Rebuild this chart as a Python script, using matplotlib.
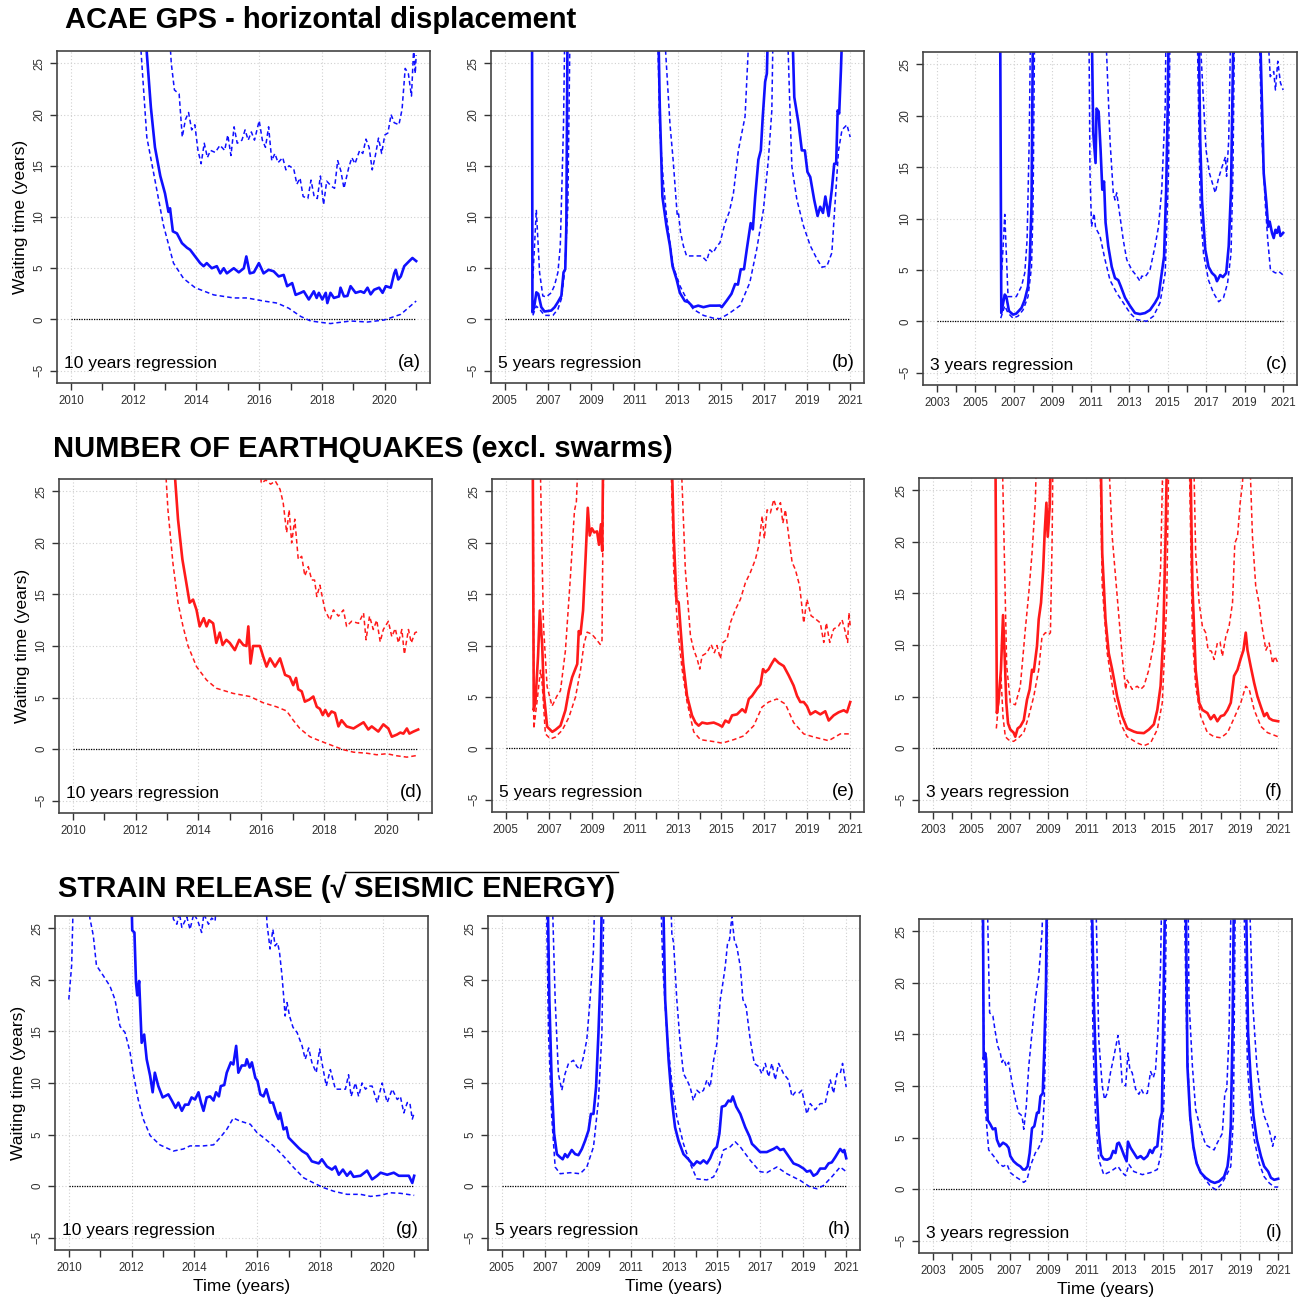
import numpy as np
import matplotlib
matplotlib.use('Agg')
import matplotlib.pyplot as plt
from matplotlib.lines import Line2D

plt.rcParams['font.family'] = ['Liberation Sans', 'DejaVu Sans']

# ---------------------------------------------------------------- data
# each curve = list of segments, each segment = list of (year, waiting time)
# values of 30 stand for "off the top of the plot"

# ---- (a) GPS, 10 years regression
a_solid = [[(2012.38, 30), (2012.42, 26.0), (2012.55, 20.7), (2012.68, 16.8), (2012.85, 14.0), (2013.0, 12.3),
            (2013.11, 10.5), (2013.16, 10.85), (2013.25, 8.6), (2013.38, 8.4), (2013.54, 7.45), (2013.7, 7.0),
            (2013.8, 6.8), (2013.96, 6.15), (2014.12, 5.5), (2014.23, 5.2), (2014.33, 5.5), (2014.49, 5.0),
            (2014.65, 5.2), (2014.76, 4.5), (2014.87, 5.0), (2014.97, 4.5), (2015.19, 5.0), (2015.35, 4.6),
            (2015.51, 5.0), (2015.59, 6.15), (2015.7, 4.5), (2015.83, 4.6), (2015.99, 5.5), (2016.14, 4.5),
            (2016.3, 4.85), (2016.46, 4.7), (2016.62, 4.2), (2016.78, 4.35), (2016.89, 3.25), (2017.05, 3.55),
            (2017.16, 2.4), (2017.32, 2.6), (2017.42, 2.75), (2017.58, 1.95), (2017.74, 2.75), (2017.83, 2.1),
            (2017.9, 2.6), (2018.01, 1.95), (2018.12, 2.6), (2018.17, 1.6), (2018.27, 2.6), (2018.38, 2.1),
            (2018.54, 2.25), (2018.59, 3.1), (2018.7, 2.25), (2018.81, 2.3), (2018.91, 3.25), (2019.07, 2.6),
            (2019.23, 2.75), (2019.34, 2.6), (2019.45, 3.1), (2019.55, 2.45), (2019.66, 2.9), (2019.82, 3.1),
            (2019.93, 2.6), (2020.03, 3.25), (2020.19, 3.1), (2020.3, 4.5), (2020.35, 4.85), (2020.43, 3.9),
            (2020.51, 4.2), (2020.62, 5.2), (2020.78, 5.7), (2020.88, 6.0), (2021.0, 5.7)]]
a_upper = [[(2013.1, 30), (2013.2, 25.0), (2013.3, 22.4), (2013.45, 22.0), (2013.55, 17.8), (2013.65, 19.5),
            (2013.75, 20.2), (2013.85, 18.5), (2013.95, 19.0), (2014.05, 16.5), (2014.15, 15.2), (2014.25, 17.2),
            (2014.35, 15.8), (2014.45, 16.5), (2014.6, 16.3), (2014.75, 17.0), (2014.9, 16.5), (2015.0, 18.0),
            (2015.1, 16.0), (2015.2, 18.8), (2015.3, 17.2), (2015.45, 17.5), (2015.55, 18.5), (2015.65, 17.5),
            (2015.75, 18.3), (2015.85, 17.5), (2016.0, 19.4), (2016.1, 17.5), (2016.2, 16.8), (2016.3, 18.8),
            (2016.4, 15.5), (2016.5, 16.2), (2016.6, 15.3), (2016.75, 15.8), (2016.85, 14.6), (2016.95, 15.0),
            (2017.1, 14.7), (2017.2, 13.2), (2017.3, 13.8), (2017.4, 12.0), (2017.55, 11.8), (2017.65, 13.6),
            (2017.75, 12.0), (2017.85, 11.8), (2017.95, 14.0), (2018.05, 11.2), (2018.15, 13.5), (2018.3, 13.0),
            (2018.4, 12.8), (2018.5, 15.5), (2018.6, 14.5), (2018.7, 12.8), (2018.85, 14.8), (2018.95, 15.8),
            (2019.05, 15.2), (2019.2, 16.5), (2019.3, 16.2), (2019.4, 17.6), (2019.5, 16.8), (2019.6, 14.6),
            (2019.7, 16.0), (2019.8, 17.7), (2019.9, 16.2), (2020.0, 18.0), (2020.1, 18.2), (2020.2, 20.0),
            (2020.3, 19.2), (2020.45, 19.0), (2020.55, 20.5), (2020.65, 24.5), (2020.75, 24.0), (2020.85, 21.8),
            (2020.92, 26.5), (2020.97, 24.0), (2021.0, 25.8)]]
a_lower = [[(2012.2, 30), (2012.24, 26.0), (2012.42, 17.8), (2012.68, 13.6), (2012.95, 9.2), (2013.27, 5.5),
            (2013.59, 4.0), (2013.96, 3.1), (2014.55, 2.4), (2015.19, 2.1), (2015.61, 2.1), (2016.14, 1.8),
            (2016.57, 1.6), (2016.94, 1.1), (2017.32, 0.3), (2017.64, -0.15), (2018.27, -0.4), (2018.91, -0.15),
            (2019.45, -0.25), (2019.98, -0.05), (2020.51, 0.5), (2021.0, 1.8)]]

# ---- (b) GPS, 5 years regression
b_solid = [[(2006.26, 30), (2006.28, 0.7), (2006.36, 1.2), (2006.46, 2.65), (2006.55, 2.5), (2006.69, 1.2),
            (2006.84, 0.78), (2007.15, 0.87), (2007.31, 1.2), (2007.46, 1.7), (2007.62, 2.3), (2007.72, 4.6),
            (2007.8, 4.9), (2007.85, 9.1), (2007.91, 30)],
           [(2012.1, 30), (2012.18, 20.7), (2012.3, 12.0), (2012.49, 9.1), (2012.65, 7.2), (2012.77, 5.2),
            (2012.96, 3.9), (2013.11, 2.6), (2013.34, 1.8), (2013.5, 1.7), (2013.73, 1.2), (2013.96, 1.35),
            (2014.2, 1.2), (2014.5, 1.35), (2014.81, 1.35), (2014.97, 1.36), (2015.05, 1.2), (2015.28, 1.84),
            (2015.5, 2.5), (2015.67, 3.46), (2015.8, 3.4), (2015.93, 4.9), (2016.08, 4.9), (2016.21, 6.85),
            (2016.39, 9.4), (2016.49, 8.8), (2016.6, 12.0), (2016.75, 15.6), (2016.86, 16.5), (2016.95, 19.8),
            (2017.06, 23.2), (2017.14, 24.0), (2017.21, 30)],
           [(2018.3, 30), (2018.41, 21.7), (2018.61, 19.1), (2018.76, 16.5), (2018.9, 16.5), (2019.02, 14.4),
            (2019.15, 13.9), (2019.33, 11.7), (2019.49, 10.1), (2019.61, 11.0), (2019.74, 10.4), (2019.85, 12.0),
            (2020.0, 10.1), (2020.15, 12.7), (2020.26, 15.2), (2020.35, 15.2), (2020.42, 20.4), (2020.49, 20.1),
            (2020.57, 24.3), (2020.66, 30)]]
b_upper = [[(2006.3, 4.0), (2006.46, 10.7), (2006.61, 4.6), (2006.76, 2.3), (2006.92, 2.2), (2007.15, 2.6),
            (2007.3, 3.3), (2007.46, 4.6), (2007.57, 7.2), (2007.66, 14.3), (2007.72, 19.1), (2007.79, 30)],
           [(2012.34, 30), (2012.65, 19.1), (2012.8, 15.5), (2012.99, 10.1), (2013.05, 10.3), (2013.14, 8.5),
            (2013.27, 7.2), (2013.42, 6.2), (2013.73, 6.2), (2014.12, 6.2), (2014.35, 5.7), (2014.5, 6.8),
            (2014.65, 6.5), (2014.81, 7.1), (2014.97, 7.5), (2015.2, 9.4), (2015.4, 10.5), (2015.59, 12.3),
            (2015.82, 16.5), (2016.13, 19.8), (2016.36, 30)]]
b_lower = [[(2006.3, 0.4), (2006.46, 1.3), (2006.61, 1.0), (2006.84, 0.4), (2007.23, 0.4), (2007.46, 1.0),
            (2007.62, 2.0), (2007.77, 4.6), (2007.92, 11.0), (2008.03, 30)],
           [(2012.06, 30), (2012.18, 18.4), (2012.34, 13.6), (2012.49, 10.1), (2012.65, 7.5), (2012.8, 5.2),
            (2013.11, 3.3), (2013.42, 2.0), (2013.73, 1.0), (2014.2, 0.4), (2014.66, 0.13), (2014.97, 0.07),
            (2015.4, 0.6), (2015.9, 1.36), (2016.35, 3.6), (2016.67, 6.85), (2016.98, 10.7), (2017.21, 15.6),
            (2017.37, 20.4), (2017.44, 30)],
           [(2018.07, 30), (2018.22, 19.8), (2018.3, 14.9), (2018.53, 11.7), (2018.84, 9.1), (2019.15, 7.2),
            (2019.46, 5.9), (2019.69, 5.1), (2019.92, 5.2), (2020.15, 6.5), (2020.31, 11.7), (2020.46, 16.5),
            (2020.62, 18.5), (2020.85, 19.0), (2021.0, 17.8)]]

# ---- (c) GPS, 3 years regression
c_solid = [[(2006.29, 30), (2006.35, 0.8), (2006.53, 2.6), (2006.61, 2.4), (2006.75, 1.0), (2006.96, 0.65),
            (2007.13, 0.75), (2007.4, 1.3), (2007.57, 2.1), (2007.74, 3.4), (2007.83, 6.0), (2007.92, 11.2),
            (2008.0, 30)],
           [(2011.04, 30), (2011.13, 18.3), (2011.25, 15.4), (2011.3, 20.7), (2011.41, 20.4), (2011.51, 16.7),
            (2011.6, 12.8), (2011.69, 13.6), (2011.77, 9.6), (2011.91, 7.3), (2012.09, 5.3), (2012.26, 4.2),
            (2012.43, 4.0), (2012.56, 3.4), (2012.78, 2.3), (2013.04, 1.5), (2013.3, 0.8), (2013.56, 0.7),
            (2013.82, 0.8), (2014.08, 1.1), (2014.34, 1.8), (2014.52, 2.4), (2014.69, 4.7), (2014.81, 6.3),
            (2014.92, 12.8), (2015.0, 20.9), (2015.06, 30)],
           [(2016.6, 30), (2016.69, 17.6), (2016.78, 11.8), (2016.95, 7.0), (2017.12, 5.3), (2017.3, 4.7),
            (2017.47, 4.4), (2017.56, 3.9), (2017.73, 4.5), (2017.87, 4.3), (2018.04, 4.7), (2018.17, 7.3),
            (2018.29, 12.8), (2018.43, 30)],
           [(2019.78, 30), (2019.99, 14.4), (2020.13, 11.5), (2020.22, 9.2), (2020.3, 9.7), (2020.42, 8.6),
            (2020.51, 8.1), (2020.6, 8.9), (2020.68, 8.6), (2020.77, 9.2), (2020.86, 8.3), (2021.0, 8.6)]]
c_upper = [[(2006.38, 5.0), (2006.53, 10.4), (2006.7, 2.4), (2006.96, 2.4), (2007.13, 2.4), (2007.4, 3.4),
            (2007.57, 4.7), (2007.69, 7.9), (2007.8, 17.6), (2007.88, 30)],
           [(2011.74, 30), (2012.0, 17.6), (2012.17, 12.5), (2012.26, 11.8), (2012.35, 12.5), (2012.52, 10.2),
            (2012.69, 7.9), (2012.87, 6.0), (2013.13, 5.0), (2013.39, 4.4), (2013.56, 3.9), (2013.65, 4.4),
            (2013.82, 4.3), (2014.08, 5.0), (2014.34, 7.3), (2014.52, 9.2), (2014.69, 12.8), (2014.87, 20.9),
            (2014.92, 30)],
           [(2016.62, 30), (2016.99, 16.7), (2017.17, 14.4), (2017.47, 12.5), (2017.64, 13.9), (2017.82, 15.0),
            (2018.0, 16.0), (2018.06, 14.1), (2018.17, 17.6), (2018.29, 30)],
           [(2020.15, 30), (2020.33, 23.8), (2020.51, 24.3), (2020.6, 22.5), (2020.72, 25.3), (2020.86, 23.2),
            (2021.0, 22.5)]]
c_lower = [[(2006.32, 0.3), (2006.53, 1.5), (2006.7, 0.8), (2006.96, 0.3), (2007.22, 0.5), (2007.48, 1.1),
            (2007.74, 2.4), (2007.92, 5.3), (2008.0, 11.2), (2008.09, 30)],
           [(2010.9, 30), (2010.96, 14.4), (2011.04, 9.2), (2011.17, 10.5), (2011.25, 9.1), (2011.48, 8.3),
            (2011.74, 6.0), (2012.0, 4.0), (2012.35, 2.75), (2012.69, 1.8), (2013.04, 0.8), (2013.39, 0.16),
            (2013.9, 0.0), (2014.26, 0.5), (2014.6, 1.8), (2014.87, 4.7), (2015.04, 14.4), (2015.13, 30)],
           [(2016.52, 30), (2016.69, 11.2), (2016.86, 6.6), (2017.12, 4.0), (2017.38, 2.75), (2017.65, 1.9),
            (2017.9, 2.3), (2018.11, 3.7), (2018.29, 6.6), (2018.39, 14.4), (2018.48, 30)],
           [(2019.73, 30), (2019.9, 17.6), (2020.08, 11.2), (2020.2, 7.9), (2020.34, 5.0), (2020.6, 4.7),
            (2020.77, 4.85), (2021.0, 4.5)]]

# ---- (d) earthquakes, 10 years regression
d_solid = [[(2013.17, 30), (2013.35, 22.3), (2013.49, 18.4), (2013.6, 16.4), (2013.72, 14.2), (2013.83, 14.5),
            (2013.94, 13.5), (2014.04, 11.9), (2014.17, 12.7), (2014.26, 11.9), (2014.34, 12.5), (2014.47, 12.2),
            (2014.57, 10.3), (2014.68, 11.3), (2014.77, 10.1), (2014.89, 10.6), (2015.0, 10.3), (2015.16, 9.6),
            (2015.3, 10.6), (2015.43, 10.1), (2015.53, 10.0), (2015.59, 11.9), (2015.66, 8.3), (2015.74, 10.0),
            (2015.96, 10.0), (2016.06, 9.0), (2016.17, 8.0), (2016.28, 8.8), (2016.44, 8.0), (2016.6, 8.8),
            (2016.76, 7.2), (2016.91, 7.0), (2017.02, 6.2), (2017.11, 6.9), (2017.18, 5.8), (2017.29, 5.6),
            (2017.39, 4.6), (2017.53, 4.8), (2017.66, 5.1), (2017.77, 4.1), (2017.87, 3.9), (2017.96, 3.3),
            (2018.04, 3.8), (2018.14, 3.2), (2018.24, 3.65), (2018.35, 3.5), (2018.46, 2.2), (2018.56, 2.8),
            (2018.72, 2.2), (2018.94, 2.0), (2019.1, 2.3), (2019.26, 2.6), (2019.41, 1.9), (2019.52, 2.2),
            (2019.73, 1.7), (2019.89, 2.4), (2020.05, 2.0), (2020.16, 1.2), (2020.32, 1.4), (2020.43, 1.6),
            (2020.53, 1.5), (2020.64, 2.0), (2020.72, 1.5), (2020.85, 1.7), (2021.0, 1.9)]]
d_upper = [[(2015.95, 30), (2016.0, 25.8), (2016.15, 26.1), (2016.3, 25.7), (2016.45, 26.0), (2016.6, 25.2),
            (2016.7, 23.9), (2016.81, 21.0), (2016.89, 23.2), (2016.97, 20.0), (2017.07, 22.3), (2017.18, 18.4),
            (2017.29, 18.7), (2017.39, 16.8), (2017.5, 17.7), (2017.61, 16.4), (2017.7, 16.4), (2017.77, 14.8),
            (2017.87, 15.9), (2018.03, 13.5), (2018.19, 12.5), (2018.3, 13.5), (2018.46, 12.9), (2018.62, 13.5),
            (2018.72, 11.9), (2018.88, 12.4), (2019.1, 12.2), (2019.26, 13.2), (2019.34, 10.6), (2019.45, 12.9),
            (2019.57, 11.6), (2019.68, 12.5), (2019.79, 10.4), (2019.89, 11.6), (2020.05, 12.4), (2020.16, 10.9),
            (2020.27, 11.7), (2020.37, 10.3), (2020.48, 11.6), (2020.56, 9.2), (2020.69, 11.6), (2020.78, 10.3),
            (2020.9, 11.3), (2021.0, 11.4)]]
d_lower = [[(2012.9, 30), (2013.03, 23.2), (2013.19, 18.0), (2013.35, 14.2), (2013.51, 11.9), (2013.67, 10.0),
            (2013.94, 8.0), (2014.26, 6.7), (2014.57, 5.9), (2015.11, 5.4), (2015.64, 5.1), (2016.06, 4.5),
            (2016.49, 4.1), (2016.81, 3.7), (2017.02, 2.8), (2017.23, 2.0), (2017.55, 1.2), (2017.87, 0.8),
            (2018.3, 0.3), (2018.62, -0.06), (2018.94, -0.3), (2019.36, -0.4), (2019.68, -0.55), (2020.0, -0.45),
            (2020.32, -0.65), (2020.64, -0.78), (2021.0, -0.6)]]

# ---- (e) earthquakes, 5 years regression
e_solid = [[(2006.25, 30), (2006.3, 3.7), (2006.38, 4.6), (2006.5, 9.0), (2006.58, 13.4), (2006.69, 10.1),
            (2006.77, 5.3), (2006.92, 2.1), (2007.16, 1.6), (2007.31, 1.8), (2007.54, 2.2), (2007.77, 3.7),
            (2007.93, 5.6), (2008.08, 6.9), (2008.19, 7.5), (2008.32, 8.2), (2008.39, 11.4), (2008.47, 11.1),
            (2008.59, 13.4), (2008.7, 18.2), (2008.81, 23.4), (2008.9, 20.7), (2009.0, 21.4), (2009.11, 21.0),
            (2009.24, 21.1), (2009.33, 19.8), (2009.42, 21.8), (2009.48, 19.2), (2009.53, 30)],
           [(2012.69, 30), (2012.8, 20.7), (2012.93, 14.4), (2013.03, 14.2), (2013.11, 11.9), (2013.24, 8.3),
            (2013.42, 5.1), (2013.65, 3.2), (2013.81, 2.5), (2013.96, 2.2), (2014.12, 2.5), (2014.35, 2.4),
            (2014.66, 2.5), (2014.89, 2.3), (2015.05, 2.1), (2015.2, 2.7), (2015.36, 2.5), (2015.51, 3.2),
            (2015.74, 3.3), (2015.98, 3.8), (2016.13, 3.5), (2016.29, 4.8), (2016.44, 5.1), (2016.67, 5.8),
            (2016.83, 6.2), (2016.95, 7.7), (2017.06, 7.4), (2017.21, 7.7), (2017.37, 8.3), (2017.49, 8.7),
            (2017.68, 8.3), (2017.91, 8.0), (2018.14, 7.1), (2018.37, 6.1), (2018.53, 5.1), (2018.68, 4.5),
            (2018.84, 4.5), (2018.99, 4.1), (2019.15, 3.3), (2019.38, 3.6), (2019.61, 3.3), (2019.84, 3.6),
            (2020.0, 2.7), (2020.23, 3.2), (2020.46, 3.5), (2020.7, 3.7), (2020.85, 3.5), (2021.0, 4.5)]]
e_upper = [[(2006.58, 30), (2006.75, 12.0), (2006.92, 6.0), (2007.15, 4.1), (2007.38, 5.1), (2007.54, 5.6),
            (2007.77, 9.5), (2008.0, 16.6), (2008.19, 23.1), (2008.28, 24.0), (2008.39, 30)],
           [(2013.11, 30), (2013.34, 17.4), (2013.58, 10.9), (2013.73, 9.6), (2013.89, 8.7), (2014.01, 7.7),
            (2014.12, 9.0), (2014.35, 9.3), (2014.54, 10.1), (2014.69, 9.3), (2014.81, 10.0), (2014.97, 8.7),
            (2015.09, 10.3), (2015.28, 10.6), (2015.43, 12.2), (2015.67, 13.5), (2015.9, 14.5), (2016.13, 16.1),
            (2016.36, 17.1), (2016.6, 18.4), (2016.75, 19.7), (2016.91, 22.6), (2017.01, 20.4), (2017.14, 23.2),
            (2017.29, 22.9), (2017.45, 24.2), (2017.6, 23.2), (2017.76, 23.9), (2017.87, 21.9), (2017.99, 23.2),
            (2018.14, 20.7), (2018.3, 18.1), (2018.45, 17.4), (2018.65, 15.8), (2018.84, 12.2), (2018.99, 14.5),
            (2019.18, 12.9), (2019.38, 12.6), (2019.61, 12.2), (2019.77, 10.3), (2019.89, 12.2), (2020.05, 10.3),
            (2020.23, 11.6), (2020.46, 11.9), (2020.62, 12.5), (2020.74, 11.6), (2020.88, 10.3), (2020.94, 13.2),
            (2021.0, 11.9)]]
e_lower = [[(2006.27, 30), (2006.3, 1.9), (2006.45, 4.5), (2006.61, 7.6), (2006.69, 6.3), (2006.84, 1.4),
            (2007.08, 0.9), (2007.31, 1.1), (2007.62, 1.75), (2007.93, 3.0), (2008.24, 5.0), (2008.47, 7.6),
            (2008.63, 10.1), (2008.78, 11.3), (2009.0, 11.1), (2009.24, 10.5), (2009.39, 10.1), (2009.47, 10.5),
            (2009.55, 30)],
           [(2012.65, 30), (2012.8, 17.4), (2012.99, 11.6), (2013.19, 7.7), (2013.42, 4.5), (2013.73, 1.6),
            (2014.04, 0.84), (2014.66, 0.65), (2015.05, 0.5), (2015.59, 0.84), (2016.05, 1.2), (2016.52, 2.2),
            (2016.9, 4.0), (2017.21, 4.5), (2017.6, 4.8), (2017.99, 4.3), (2018.37, 2.5), (2018.84, 1.4),
            (2019.3, 1.1), (2020.0, 0.74), (2020.54, 1.4), (2021.0, 1.4)]]

# ---- (f) earthquakes, 3 years regression
f_solid = [[(2006.26, 30), (2006.34, 3.4), (2006.43, 4.7), (2006.55, 7.6), (2006.66, 12.9), (2006.74, 9.2),
            (2006.83, 4.4), (2006.92, 2.4), (2007.04, 1.8), (2007.21, 1.5), (2007.3, 1.1), (2007.42, 1.9),
            (2007.56, 2.1), (2007.74, 2.7), (2007.91, 4.7), (2008.05, 5.7), (2008.17, 7.6), (2008.26, 7.4),
            (2008.43, 9.9), (2008.52, 12.5), (2008.64, 14.1), (2008.75, 17.3), (2008.83, 20.9), (2008.92, 23.8),
            (2008.99, 20.5), (2009.09, 23.4), (2009.18, 30)],
           [(2011.74, 30), (2011.83, 18.9), (2012.0, 12.5), (2012.17, 9.2), (2012.35, 7.6), (2012.61, 5.0),
            (2012.87, 3.1), (2013.13, 1.9), (2013.48, 1.6), (2013.65, 1.5), (2014.0, 1.45), (2014.26, 1.8),
            (2014.52, 2.3), (2014.7, 3.7), (2014.87, 6.0), (2015.01, 10.8), (2015.13, 20.5), (2015.22, 30)],
           [(2016.41, 30), (2016.53, 15.7), (2016.7, 7.6), (2016.88, 4.4), (2017.05, 3.7), (2017.31, 3.4),
            (2017.48, 2.8), (2017.66, 3.2), (2017.83, 2.6), (2018.01, 3.1), (2018.18, 3.2), (2018.36, 3.7),
            (2018.53, 4.4), (2018.7, 7.0), (2018.88, 7.6), (2019.05, 8.7), (2019.19, 9.5), (2019.31, 11.2),
            (2019.4, 9.5), (2019.57, 7.9), (2019.75, 6.3), (2019.92, 5.0), (2020.1, 4.0), (2020.27, 3.1),
            (2020.41, 3.4), (2020.53, 2.9), (2020.71, 2.7), (2021.0, 2.6)]]
f_upper = [[(2006.6, 30), (2006.85, 8.0), (2007.04, 4.4), (2007.3, 4.2), (2007.56, 6.0), (2007.82, 11.5),
            (2008.0, 15.0), (2008.17, 18.9), (2008.34, 23.8), (2008.43, 30)],
           [(2012.12, 30), (2012.35, 20.5), (2012.61, 14.7), (2012.87, 8.9), (2013.05, 5.7), (2013.13, 6.6),
            (2013.39, 5.7), (2013.65, 6.0), (2013.83, 5.7), (2014.0, 6.0), (2014.26, 7.6), (2014.52, 10.2),
            (2014.73, 14.1), (2014.87, 17.3), (2015.01, 30)],
           [(2016.58, 30), (2016.7, 18.9), (2016.88, 14.1), (2017.05, 11.8), (2017.22, 11.2), (2017.35, 9.5),
            (2017.52, 9.4), (2017.66, 8.6), (2017.83, 10.2), (2017.97, 10.3), (2018.09, 8.9), (2018.27, 10.8),
            (2018.44, 11.8), (2018.62, 14.1), (2018.74, 19.9), (2018.88, 20.5), (2019.02, 23.8), (2019.14, 25.7),
            (2019.25, 30), (2019.49, 30), (2019.66, 20.5), (2019.83, 15.7), (2020.0, 14.1), (2020.13, 12.1),
            (2020.36, 9.5), (2020.53, 10.2), (2020.71, 8.2), (2020.83, 8.9), (2021.0, 8.2)]]
f_lower = [[(2006.31, 1.9), (2006.43, 4.4), (2006.55, 7.0), (2006.66, 3.0), (2006.78, 1.1), (2006.95, 0.8),
            (2007.21, 0.65), (2007.47, 1.0), (2007.74, 1.5), (2008.0, 3.1), (2008.26, 5.0), (2008.52, 7.6),
            (2008.69, 10.8), (2008.87, 11.2), (2009.04, 11.0), (2009.13, 11.2), (2009.22, 20.5), (2009.27, 30)],
           [(2011.7, 30), (2011.83, 15.7), (2012.09, 9.2), (2012.44, 5.0), (2012.78, 2.4), (2013.13, 1.1),
            (2013.65, 0.5), (2014.0, 0.23), (2014.35, 0.5), (2014.7, 1.8), (2014.96, 4.4), (2015.19, 14.1),
            (2015.31, 30)],
           [(2016.35, 30), (2016.53, 10.8), (2016.7, 6.0), (2016.96, 3.1), (2017.31, 1.5), (2017.66, 1.1),
            (2018.01, 1.0), (2018.36, 1.5), (2018.7, 2.9), (2019.05, 4.4), (2019.31, 6.0), (2019.49, 5.7),
            (2019.75, 3.7), (2020.1, 2.1), (2020.44, 1.5), (2021.0, 1.1)]]

# ---- (g) strain release, 10 years regression
g_solid = [[(2011.98, 30), (2012.02, 24.8), (2012.09, 24.6), (2012.14, 19.75), (2012.18, 18.5), (2012.24, 19.9),
            (2012.32, 13.9), (2012.4, 14.7), (2012.48, 12.3), (2012.59, 10.7), (2012.67, 9.1), (2012.74, 11.0),
            (2012.85, 9.7), (2012.99, 8.6), (2013.17, 8.9), (2013.28, 8.3), (2013.4, 7.6), (2013.49, 8.1),
            (2013.6, 7.3), (2013.7, 7.9), (2013.81, 7.9), (2013.91, 8.6), (2014.02, 8.4), (2014.13, 9.1),
            (2014.21, 8.1), (2014.29, 7.3), (2014.39, 8.6), (2014.5, 8.7), (2014.61, 8.3), (2014.69, 9.1),
            (2014.78, 8.7), (2014.84, 9.7), (2014.95, 9.8), (2015.03, 11.0), (2015.16, 12.0), (2015.24, 11.8),
            (2015.33, 13.6), (2015.4, 11.0), (2015.51, 11.7), (2015.62, 11.7), (2015.67, 12.3), (2015.76, 11.5),
            (2015.83, 12.0), (2015.94, 10.5), (2016.01, 10.2), (2016.1, 8.9), (2016.2, 8.7), (2016.29, 9.4),
            (2016.41, 8.1), (2016.5, 8.1), (2016.61, 7.0), (2016.68, 6.5), (2016.73, 7.1), (2016.84, 5.5),
            (2016.93, 5.7), (2017.0, 4.7), (2017.16, 4.2), (2017.32, 3.7), (2017.43, 3.4), (2017.59, 3.1),
            (2017.74, 2.4), (2017.96, 2.2), (2018.06, 2.6), (2018.22, 1.9), (2018.38, 1.6), (2018.49, 1.9),
            (2018.6, 1.1), (2018.73, 1.6), (2018.86, 1.0), (2018.97, 1.4), (2019.07, 0.9), (2019.29, 1.0),
            (2019.5, 1.5), (2019.66, 0.65), (2019.82, 1.0), (2019.93, 1.3), (2020.14, 1.1), (2020.35, 1.3),
            (2020.51, 1.0), (2020.67, 1.0), (2020.83, 1.0), (2020.94, 0.3), (2021.0, 1.0)]]
g_upper = [[(2010.0, 18.1), (2010.09, 21.4), (2010.16, 30), (2013.25, 30), (2013.33, 25.9), (2013.44, 25.4),
            (2013.52, 26.5), (2013.6, 25.1), (2013.76, 26.1), (2013.86, 24.9), (2013.98, 26.4), (2014.1, 25.8),
            (2014.23, 24.6), (2014.3, 26.4), (2014.45, 25.4), (2014.55, 26.0), (2014.66, 25.7), (2014.75, 30),
            (2016.25, 30), (2016.31, 25.5), (2016.41, 23.0), (2016.5, 24.9), (2016.57, 23.3), (2016.65, 23.6),
            (2016.71, 22.7), (2016.79, 20.4), (2016.84, 18.5), (2016.89, 16.5), (2016.95, 17.8), (2017.03, 16.5),
            (2017.14, 15.4), (2017.27, 14.9), (2017.43, 13.6), (2017.53, 12.3), (2017.64, 13.4), (2017.74, 12.0),
            (2017.88, 11.0), (2017.99, 13.3), (2018.06, 12.0), (2018.2, 9.7), (2018.33, 11.3), (2018.49, 9.4),
            (2018.65, 9.4), (2018.81, 9.4), (2018.91, 10.8), (2018.99, 8.7), (2019.13, 10.0), (2019.23, 8.7),
            (2019.34, 10.0), (2019.45, 9.4), (2019.55, 9.7), (2019.66, 9.7), (2019.82, 8.1), (2019.98, 10.0),
            (2020.14, 8.1), (2020.3, 9.4), (2020.46, 8.4), (2020.56, 8.7), (2020.67, 7.1), (2020.78, 8.1),
            (2020.86, 8.1), (2020.94, 6.5), (2021.0, 7.1)]]
g_lower = [[(2010.6, 30), (2010.67, 26.0), (2010.78, 24.3), (2010.88, 21.4), (2011.1, 20.4), (2011.31, 19.4),
            (2011.47, 18.1), (2011.63, 15.5), (2011.79, 14.9), (2011.95, 13.0), (2012.05, 11.0), (2012.21, 8.4),
            (2012.37, 6.5), (2012.59, 4.9), (2012.9, 4.0), (2013.33, 3.4), (2013.65, 3.6), (2013.86, 3.9),
            (2014.29, 3.9), (2014.61, 4.0), (2014.82, 4.7), (2015.03, 5.5), (2015.24, 6.6), (2015.46, 6.3),
            (2015.78, 6.0), (2015.99, 5.2), (2016.2, 4.7), (2016.52, 3.9), (2016.84, 2.9), (2017.16, 1.8),
            (2017.48, 0.8), (2017.8, 0.3), (2018.12, -0.16), (2018.44, -0.5), (2018.86, -0.8), (2019.29, -0.8),
            (2019.61, -1.0), (2019.93, -0.9), (2020.24, -0.65), (2020.56, -0.7), (2021.0, -0.9)]]

# ---- (h) strain release, 5 years regression
h_solid = [[(2007.12, 30), (2007.21, 18.1), (2007.32, 10.0), (2007.43, 5.1), (2007.56, 3.1), (2007.71, 2.8),
            (2007.83, 2.6), (2007.94, 3.1), (2008.05, 2.8), (2008.25, 3.5), (2008.41, 3.1), (2008.56, 3.0),
            (2008.72, 3.6), (2008.87, 4.4), (2009.03, 5.4), (2009.14, 7.0), (2009.26, 7.0), (2009.38, 9.6),
            (2009.49, 14.8), (2009.6, 21.3), (2009.66, 30)],
           [(2012.48, 30), (2012.59, 18.1), (2012.75, 12.2), (2012.9, 8.3), (2013.05, 5.7), (2013.21, 4.4),
            (2013.44, 3.1), (2013.67, 2.6), (2013.9, 2.0), (2014.06, 2.4), (2014.22, 2.2), (2014.37, 2.5),
            (2014.53, 2.2), (2014.68, 2.7), (2014.84, 3.5), (2014.99, 3.8), (2015.11, 5.1), (2015.22, 7.7),
            (2015.38, 7.8), (2015.53, 8.3), (2015.64, 8.2), (2015.73, 8.7), (2015.89, 7.7), (2016.08, 7.0),
            (2016.31, 5.7), (2016.51, 4.8), (2016.62, 4.1), (2016.77, 3.8), (2017.0, 3.3), (2017.31, 3.3),
            (2017.62, 3.6), (2017.78, 3.8), (2017.93, 3.5), (2018.09, 3.6), (2018.32, 2.9), (2018.55, 2.2),
            (2018.79, 2.0), (2019.02, 1.7), (2019.17, 1.4), (2019.33, 1.5), (2019.48, 1.0), (2019.64, 1.2),
            (2019.79, 1.7), (2020.02, 1.7), (2020.18, 2.2), (2020.33, 2.3), (2020.49, 2.8), (2020.72, 3.6),
            (2020.85, 3.3), (2020.91, 3.5), (2021.0, 2.7)]]
h_upper = [[(2007.32, 30), (2007.48, 18.1), (2007.63, 10.9), (2007.79, 9.3), (2007.94, 10.9), (2008.1, 11.9),
            (2008.33, 12.2), (2008.49, 11.6), (2008.64, 11.3), (2008.79, 12.5), (2008.95, 14.2), (2009.1, 18.1),
            (2009.26, 22.9), (2009.34, 30)],
           [(2012.82, 30), (2012.9, 24.5), (2012.98, 23.6), (2013.13, 18.1), (2013.29, 13.8), (2013.44, 10.9),
            (2013.6, 10.3), (2013.75, 9.6), (2013.9, 8.3), (2014.06, 9.3), (2014.22, 9.0), (2014.37, 9.3),
            (2014.53, 10.3), (2014.68, 9.6), (2014.84, 12.2), (2014.99, 13.8), (2015.15, 18.1), (2015.27, 19.7),
            (2015.38, 21.3), (2015.49, 23.6), (2015.58, 23.9), (2015.69, 26.2), (2015.8, 23.9), (2015.92, 23.2),
            (2016.08, 21.3), (2016.2, 18.1), (2016.35, 17.4), (2016.54, 14.2), (2016.73, 11.9), (2016.93, 11.6),
            (2017.08, 10.9), (2017.24, 11.9), (2017.39, 10.6), (2017.55, 11.9), (2017.7, 10.3), (2017.86, 11.9),
            (2018.09, 10.9), (2018.32, 10.3), (2018.48, 8.7), (2018.63, 9.1), (2018.79, 9.0), (2018.94, 9.3),
            (2019.17, 7.0), (2019.33, 8.0), (2019.56, 7.4), (2019.79, 8.0), (2020.02, 8.0), (2020.26, 10.3),
            (2020.41, 9.0), (2020.57, 10.9), (2020.72, 10.9), (2020.83, 11.9), (2021.0, 9.6)]]
h_lower = [[(2007.06, 30), (2007.17, 14.8), (2007.32, 6.7), (2007.48, 1.85), (2007.71, 1.2), (2008.18, 1.3),
            (2008.64, 1.2), (2008.95, 1.85), (2009.26, 3.8), (2009.49, 8.3), (2009.65, 14.8), (2009.76, 30)],
           [(2012.36, 30), (2012.48, 21.3), (2012.67, 14.8), (2012.9, 10.0), (2013.13, 6.7), (2013.44, 4.1),
            (2013.75, 2.2), (2014.06, 0.7), (2014.53, 0.6), (2014.84, 0.9), (2015.07, 1.85), (2015.3, 3.5),
            (2015.61, 3.8), (2015.84, 4.3), (2016.08, 3.8), (2016.54, 2.5), (2017.0, 1.4), (2017.31, 1.3),
            (2017.78, 1.85), (2018.24, 1.2), (2018.86, 0.55), (2019.33, -0.1), (2019.64, -0.26), (2019.95, 0.06),
            (2020.33, 0.9), (2020.72, 1.85), (2021.0, 1.4)]]

# ---- (i) strain release, 3 years regression
i_solid = [[(2005.61, 30), (2005.65, 12.6), (2005.73, 13.2), (2005.78, 12.6), (2005.86, 6.7), (2005.99, 6.3),
            (2006.13, 5.8), (2006.26, 5.9), (2006.34, 4.8), (2006.48, 4.15), (2006.66, 4.5), (2006.83, 4.3),
            (2006.95, 4.0), (2007.04, 3.2), (2007.21, 2.7), (2007.39, 2.4), (2007.56, 2.2), (2007.7, 1.9),
            (2007.82, 1.9), (2007.94, 2.2), (2008.05, 3.5), (2008.17, 5.9), (2008.29, 6.1), (2008.43, 7.4),
            (2008.52, 7.4), (2008.61, 9.0), (2008.73, 9.3), (2008.81, 13.6), (2008.9, 20.0), (2008.95, 30)],
           [(2011.27, 30), (2011.39, 18.4), (2011.53, 10.0), (2011.65, 5.4), (2011.77, 3.3), (2011.91, 2.9),
            (2012.09, 2.85), (2012.26, 3.0), (2012.4, 3.7), (2012.52, 3.5), (2012.61, 4.4), (2012.7, 4.5),
            (2012.82, 4.0), (2012.96, 3.3), (2013.1, 2.7), (2013.17, 4.6), (2013.31, 4.0), (2013.48, 3.5),
            (2013.65, 3.0), (2013.83, 3.2), (2014.0, 2.9), (2014.18, 3.2), (2014.32, 3.8), (2014.44, 3.5),
            (2014.56, 4.0), (2014.7, 4.15), (2014.84, 6.7), (2014.94, 7.4), (2015.05, 21.7), (2015.12, 30)],
           [(2016.18, 30), (2016.27, 11.9), (2016.41, 7.1), (2016.58, 4.15), (2016.75, 2.5), (2016.96, 1.6),
            (2017.22, 1.1), (2017.48, 0.75), (2017.69, 0.6), (2017.92, 0.75), (2018.18, 1.2), (2018.36, 2.2),
            (2018.44, 3.5), (2018.53, 6.1), (2018.62, 15.2), (2018.7, 30)],
           [(2019.31, 30), (2019.43, 15.2), (2019.57, 10.6), (2019.71, 7.1), (2019.89, 4.8), (2020.1, 3.2),
            (2020.27, 2.2), (2020.48, 1.7), (2020.62, 1.1), (2020.79, 0.9), (2021.0, 1.0)]]
i_upper = [[(2005.82, 30), (2005.96, 17.1), (2006.13, 16.8), (2006.26, 15.2), (2006.38, 13.9), (2006.52, 13.2),
            (2006.6, 12.3), (2006.7, 12.6), (2006.83, 11.9), (2006.95, 12.3), (2007.13, 10.3), (2007.3, 8.7),
            (2007.47, 7.4), (2007.65, 7.1), (2007.74, 5.8), (2007.87, 8.0), (2008.0, 11.9), (2008.17, 15.2),
            (2008.34, 18.4), (2008.52, 20.7), (2008.69, 24.9), (2008.78, 30)],
           [(2011.48, 30), (2011.65, 14.5), (2011.83, 10.0), (2011.95, 8.7), (2012.09, 9.3), (2012.26, 11.3),
            (2012.44, 12.9), (2012.65, 14.9), (2012.75, 13.6), (2012.87, 10.3), (2013.05, 10.0), (2013.17, 13.2),
            (2013.27, 11.6), (2013.39, 11.3), (2013.57, 9.7), (2013.74, 9.2), (2013.86, 9.7), (2014.0, 9.2),
            (2014.18, 9.3), (2014.35, 11.4), (2014.49, 10.8), (2014.61, 11.6), (2014.73, 15.2), (2014.87, 21.7),
            (2014.94, 30)],
           [(2016.3, 30), (2016.35, 18.4), (2016.53, 11.9), (2016.7, 7.7), (2016.96, 5.8), (2017.22, 4.3),
            (2017.48, 4.0), (2017.66, 3.8), (2017.83, 4.5), (2018.09, 5.4), (2018.22, 9.3), (2018.32, 9.7),
            (2018.44, 15.2), (2018.56, 30)],
           [(2019.48, 30), (2019.66, 18.4), (2019.89, 11.9), (2020.1, 8.7), (2020.27, 7.1), (2020.48, 6.1),
            (2020.62, 5.1), (2020.71, 4.15), (2020.83, 5.1), (2021.0, 5.0)]]
i_lower = [[(2005.56, 30), (2005.65, 15.2), (2005.73, 8.0), (2005.91, 3.8), (2006.17, 3.2), (2006.43, 2.5),
            (2006.66, 2.2), (2006.87, 2.4), (2007.04, 1.6), (2007.3, 1.2), (2007.56, 0.9), (2007.74, 0.65),
            (2007.91, 0.9), (2008.08, 2.2), (2008.34, 3.5), (2008.52, 4.0), (2008.69, 4.8), (2008.81, 8.7),
            (2008.92, 18.4), (2008.99, 30)],
           [(2011.22, 30), (2011.36, 13.6), (2011.48, 7.1), (2011.65, 2.85), (2011.91, 1.4), (2012.26, 1.7),
            (2012.65, 2.2), (2012.87, 1.6), (2013.05, 1.3), (2013.22, 2.4), (2013.48, 1.7), (2013.92, 1.4),
            (2014.35, 1.6), (2014.7, 1.9), (2014.91, 3.5), (2015.05, 8.7), (2015.19, 30)],
           [(2016.09, 30), (2016.23, 15.2), (2016.41, 6.7), (2016.61, 3.5), (2016.87, 1.9), (2017.22, 0.9),
            (2017.48, 0.26), (2017.75, -0.06), (2018.01, 0.4), (2018.27, 1.2), (2018.53, 2.2), (2018.67, 7.1),
            (2018.77, 30)],
           [(2019.19, 30), (2019.4, 11.9), (2019.57, 7.4), (2019.75, 4.8), (2020.01, 2.5), (2020.27, 1.2),
            (2020.53, 0.6), (2020.79, 0.2), (2021.0, 0.2)]]

# time span of each regression window (first year of series, last year)
span_10 = (2010, 2021)
span_5 = (2005, 2021)
span_3 = (2003, 2021)

row_titles = ['ACAE GPS - horizontal displacement',
              'NUMBER OF EARTHQUAKES (excl. swarms)']
strain_title = ('STRAIN RELEASE (\u221a', ' SEISMIC ENERGY)')

BLUE = '#1010ff'
RED = '#ff1a1a'

# ---------------------------------------------------------------- layout (pixels)
W, H = 1306, 1303
panels = [
    # letter, box (x0, y0, x1, y1), span, label, colour, curves
    ('a', (57, 51, 430, 383), span_10, '10 years regression', BLUE, a_solid, a_upper, a_lower),
    ('b', (491, 51, 864, 383), span_5, '5 years regression', BLUE, b_solid, b_upper, b_lower),
    ('c', (923, 52, 1297, 385), span_3, '3 years regression', BLUE, c_solid, c_upper, c_lower),
    ('d', (59, 479, 432, 813), span_10, '10 years regression', RED, d_solid, d_upper, d_lower),
    ('e', (492, 479, 864, 812), span_5, '5 years regression', RED, e_solid, e_upper, e_lower),
    ('f', (919, 478, 1292, 812), span_3, '3 years regression', RED, f_solid, f_upper, f_lower),
    ('g', (55, 916, 428, 1250), span_10, '10 years regression', BLUE, g_solid, g_upper, g_lower),
    ('h', (488, 916, 860, 1250), span_5, '5 years regression', BLUE, h_solid, h_upper, h_lower),
    ('i', (919, 919, 1292, 1253), span_3, '3 years regression', BLUE, i_solid, i_upper, i_lower),
]

fig = plt.figure(figsize=(W / 100, H / 100), dpi=100)


def draw(ax, segs, color, lw, ls):
    for seg in segs:
        t, v = zip(*seg)
        ax.plot(t, v, color=color, lw=lw, linestyle=ls, solid_joinstyle='round')


for k, (letter, box, span, label, color, solid, upper, lower) in enumerate(panels):
    x0, y0, x1, y1 = box
    ax = fig.add_axes([x0 / W, 1 - y1 / H, (x1 - x0) / W, (y1 - y0) / H])
    start, end = span
    pad = 0.04 * (end - start)
    ax.set_xlim(start - pad, end + pad)
    ax.set_ylim(-6.2, 26.2)

    ax.set_xticks(np.arange(start, end + 1, 2))
    ax.set_xticks(np.arange(start + 1, end + 1, 2), minor=True)
    ax.set_yticks(np.arange(-5, 26, 5))
    ax.grid(True, which='major', color='#d0d0d0', lw=0.8, linestyle=(0, (1, 2)))
    ax.set_axisbelow(True)
    ax.tick_params(which='both', direction='out', length=5, width=1.0, color='#333333',
                   labelsize=8.3, labelcolor='#303030')
    ax.tick_params(axis='y', labelrotation=90)
    for lab in ax.get_yticklabels():
        lab.set_va('center')
    for sp in ax.spines.values():
        sp.set_color('#444444')
        sp.set_linewidth(1.2)

    ax.plot([start, end], [0, 0], color='black', lw=0.9, linestyle=(0, (1, 1)))
    draw(ax, upper, color, 1.1, (0, (3, 2)))
    draw(ax, lower, color, 1.1, (0, (3, 2)))
    draw(ax, solid, color, 1.9, '-')

    ax.text(0.02, 0.035, label, transform=ax.transAxes, fontsize=12.5, ha='left', va='bottom')
    ax.text(0.975, 0.035, f'({letter})', transform=ax.transAxes, fontsize=13.5, ha='right', va='bottom')

    if k % 3 == 0:
        ax.set_ylabel('Waiting time (years)', fontsize=12.5, labelpad=4)
    if k >= 6:
        ax.set_xlabel('Time (years)', fontsize=12.5, labelpad=4)

title_pos = [(65, 20), (53, 449)]
for (tx, ty), title in zip(title_pos, row_titles):
    fig.text(tx / W, 1 - ty / H, title, fontsize=21, fontweight='bold', ha='left', va='center')

# third title: square root sign followed by an overline
renderer = fig.canvas.get_renderer()
t1 = fig.text(58 / W, 1 - 889 / H, strain_title[0], fontsize=21, fontweight='bold', ha='left', va='center')
bb1 = t1.get_window_extent(renderer)
t2 = fig.text(bb1.x1 / W, 1 - 889 / H, strain_title[1], fontsize=21, fontweight='bold',
              ha='left', va='center')
bb2 = t2.get_window_extent(renderer)
top = bb2.y1 + 3
fig.add_artist(Line2D([(bb1.x1 - 2) / W, (bb2.x1 + 2) / W], [top / H, top / H],
                      transform=fig.transFigure, color='black', lw=1.0))

fig.savefig('out.png', dpi=100)
